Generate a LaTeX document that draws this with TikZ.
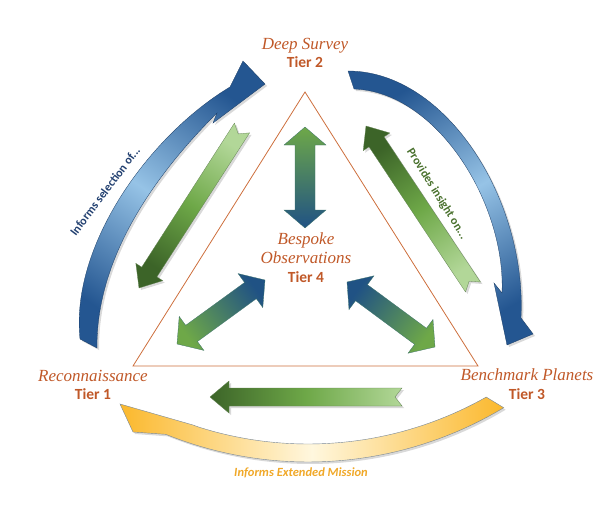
\documentclass[tikz,border=0pt]{standalone}
\usepackage{fontspec}
\setsansfont{Carlito}
\newfontfamily\tierfont{Liberation Serif}
\usetikzlibrary{calc}
\usetikzlibrary{shadows}
\usetikzlibrary{positioning}

\definecolor{tiertext}{RGB}{192,88,40}
\definecolor{edgeline}{RGB}{205,110,60}
\definecolor{bluedeep}{RGB}{36,86,145}
\definecolor{bluepale}{RGB}{150,195,230}
\definecolor{greendeep}{RGB}{60,100,40}
\definecolor{greenmid}{RGB}{110,168,72}
\definecolor{greenpale}{RGB}{178,215,152}
\definecolor{navy}{RGB}{32,82,132}
\definecolor{goldfull}{RGB}{251,184,44}
\definecolor{goldpale}{RGB}{255,247,222}
\definecolor{goldedge}{RGB}{120,135,150}
\definecolor{goldtext}{RGB}{240,168,40}
\definecolor{bluetext}{RGB}{34,64,112}
\definecolor{greentext}{RGB}{72,112,44}

\tikzset{
  tiername/.style = {text=tiertext, anchor=base, inner sep=0pt,
    font=\fontsize{17}{19}\selectfont\tierfont\itshape},
  tiernum/.style = {text=tiertext, anchor=base, inner sep=0pt,
    font=\fontsize{15.5}{18}\selectfont\sffamily\bfseries},
  arclabel/.style = {inner sep=0pt, font=\fontsize{12}{14}\selectfont\sffamily\bfseries},
  softshadow/.style = {drop shadow={opacity=.3, shadow xshift=2pt, shadow yshift=-2pt}},
  bluearc/.style = {softshadow, draw=bluedeep!70!black, line width=.3pt,
    top color=bluedeep, bottom color=bluedeep, middle color=bluepale},
  goldarc/.style = {softshadow, draw=goldedge, line width=.4pt,
    left color=goldfull, right color=goldfull, middle color=goldpale},
  greenone/.style = {softshadow, draw=greendeep!80, line width=.3pt,
    top color=greendeep, bottom color=greenpale, middle color=greenmid},
  greentwo/.style = {draw=navy!60!greenmid, line width=.3pt,
    top color=greenmid, bottom color=navy},
}

% one-way arrow with a notched tail
\newcommand\flatarrow[3][]{%
  \coordinate (fa-base) at ($(#3)!19pt!(#2)$);
  \path[#1] (#3)
    -- ($(fa-base)!16pt!90:(#3)$) -- ($(fa-base)!9pt!90:(#3)$)
    -- ($(#2)!9pt!90:(#3)$) -- ($(#2)!7pt!(#3)$) -- ($(#2)!9pt!-90:(#3)$)
    -- ($(fa-base)!9pt!-90:(#3)$) -- ($(fa-base)!16pt!-90:(#3)$) -- cycle;
}
% two-way arrow
\newcommand\bothwaysarrow[3][]{%
  \coordinate (bw-a) at ($(#2)!18pt!(#3)$);
  \coordinate (bw-b) at ($(#3)!18pt!(#2)$);
  \path[#1] (#2)
    -- ($(bw-a)!21pt!90:(#3)$) -- ($(bw-a)!10pt!90:(#3)$)
    -- ($(bw-b)!10pt!-90:(#2)$) -- ($(bw-b)!21pt!-90:(#2)$) -- (#3)
    -- ($(bw-b)!21pt!90:(#2)$) -- ($(bw-b)!10pt!90:(#2)$)
    -- ($(bw-a)!10pt!-90:(#3)$) -- ($(bw-a)!21pt!-90:(#3)$) -- cycle;
}

\begin{document}
\begin{tikzpicture}[x=1pt, y=-1pt]
  \useasboundingbox (0,0) rectangle (613,511);

  % triangle
  \coordinate (apex) at (305,92);
  \coordinate (lcorner) at (133,366);
  \coordinate (rcorner) at (478,366);
  \draw[edgeline, line width=.8pt] (apex) -- (lcorner) -- (rcorner) -- cycle;

  % big curved arrows
  \path[bluearc, shading angle=-34]
    (80,339) .. controls (70,245) and (150,135) .. (230,87)
    -- (243,61) -- (265,84) -- (213,123) -- (217,113)
    .. controls (168,162) and (96,248) .. (97,348) -- cycle;
  \path[bluearc, shading angle=-150]
    (348,71) .. controls (446,71) and (527,200) .. (521,318)
    -- (533,334) -- (507,345) -- (494,283) -- (502,293)
    .. controls (506,205) and (438,92) .. (354,89) -- cycle;
  \path[goldarc]
    plot[domain=-59:-112, samples=40, variable=\t] ({308+380*cos(\t)}, {82-380*sin(\t)})
    -- (133,432) -- (120,404) -- (193,425)
    -- plot[domain=-107.5:-60.5, samples=40, variable=\t] ({308+362*cos(\t)}, {82-362*sin(\t)})
    -- cycle;

  % green arrows along the sides
  \coordinate (sel-tail) at (242,128);
  \coordinate (sel-tip) at (139,288);
  \coordinate (ins-tail) at (473,287);
  \coordinate (ins-tip) at (366,126);
  \coordinate (ext-tail) at (402,397);
  \coordinate (ext-tip) at (210,397);
  \flatarrow[greenone, shading angle=147]{sel-tail}{sel-tip}
  \flatarrow[greenone, shading angle=34]{ins-tail}{ins-tip}
  \flatarrow[greenone, shading angle=90]{ext-tail}{ext-tip}

  % two-way arrows inside
  \coordinate (up-in) at (305,228);
  \coordinate (up-out) at (305,127);
  \coordinate (ll-in) at (265,280);
  \coordinate (ll-out) at (177,344);
  \coordinate (lr-in) at (347,282);
  \coordinate (lr-out) at (435,347);
  \bothwaysarrow[greentwo, shading angle=0]{up-in}{up-out}
  \bothwaysarrow[greentwo, shading angle=126]{ll-in}{ll-out}
  \bothwaysarrow[greentwo, shading angle=-126]{lr-in}{lr-out}

  % tiers
  \node[tiername] (survey) at (305,50) {Deep Survey};
  \node[tiernum] (tier2) at (305,67) {Tier 2};
  \node[tiername] (recon) at (93,381) {Reconnaissance};
  \node[tiernum] (tier1) at (93,399) {Tier 1};
  \node[tiername] (bench) at (527,380) {Benchmark Planets};
  \node[tiernum] (tier3) at (527,399) {Tier 3};
  \node[tiername] (bespoke) at (306,244) {Bespoke};
  \node[tiername] (obs) at (306,263) {Observations};
  \node[tiernum] (tier4) at (306,282) {Tier 4};

  % arc labels
  \node[arclabel, text=bluetext, rotate=53] (selects) at (105,191) {Informs selection of...};
  \node[arclabel, text=greentext, rotate=-58] (insight) at (437,194) {Provides insight on...};
  \node[arclabel, text=goldtext, font=\fontsize{12.5}{14}\selectfont\sffamily\bfseries\itshape]
    (extended) at (301,473) {Informs Extended Mission};
\end{tikzpicture}
\end{document}
